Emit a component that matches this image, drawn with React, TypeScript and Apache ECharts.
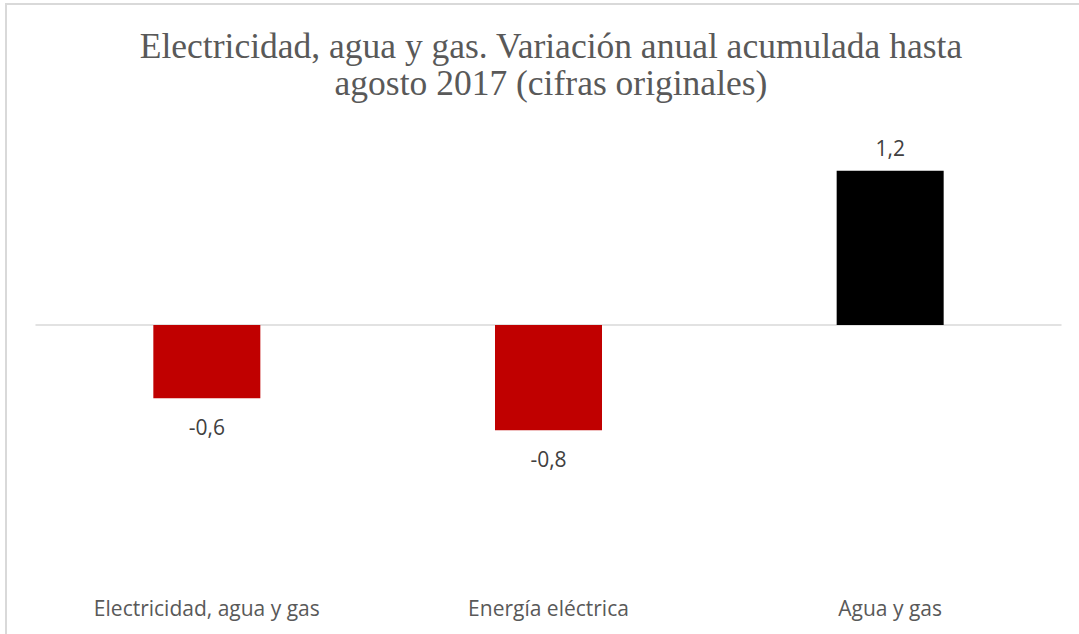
import React, { useEffect, useRef } from "react";
import * as echarts from "echarts";

const categories = ["Electricidad, agua y gas", "Energía eléctrica", "Agua y gas"];
const values = [-0.57, -0.82, 1.2];
const barColors = ["#C00000", "#C00000", "#000000"];
const titleText = "Electricidad, agua y gas. Variación anual acumulada hasta\nagosto 2017 (cifras originales)";

export default function App() {
  const ref = useRef<HTMLDivElement>(null);
  useEffect(() => {
    if (!ref.current) return;
    const chart = echarts.init(ref.current, null, { renderer: "svg" });
    const labelFont = "'Open Sans', 'Noto Sans', sans-serif";
    chart.setOption({
      animation: false,
      backgroundColor: "#ffffff",
      title: {
        text: titleText,
        left: 546,
        top: 22,
        textAlign: "center",
        textStyle: {
          fontFamily: "'Liberation Serif', 'DejaVu Serif', serif",
          fontWeight: "normal",
          fontSize: 35.5,
          lineHeight: 37,
          color: "#595959",
        },
      },
      graphic: [
        {
          type: "rect",
          shape: { x: 6, y: 4, width: 1200, height: 800 },
          style: { fill: "none", stroke: "#d9d9d9", lineWidth: 2 },
          silent: true,
        },
      ],
      grid: { left: 36, right: 18, top: 145, bottom: 52 },
      xAxis: [
        {
          type: "category",
          data: categories,
          axisLine: { show: true, onZero: true, lineStyle: { color: "#d9d9d9", width: 1.5 } },
          axisTick: { show: false },
          axisLabel: { show: false },
        },
        {
          type: "category",
          data: categories,
          position: "bottom",
          axisLine: { show: false, onZero: false },
          axisTick: { show: false },
          axisLabel: {
            show: true,
            margin: 15,
            fontFamily: labelFont,
            fontSize: 21,
            color: "#595959",
          },
        },
      ],
      yAxis: {
        type: "value",
        min: -2,
        max: 1.4,
        show: false,
        splitLine: { show: false },
      },
      series: [
        {
          type: "bar",
          xAxisIndex: 0,
          barWidth: 107,
          data: values.map((v, i) => ({
            value: v,
            itemStyle: { color: barColors[i] },
            label: {
              show: true,
              position: v >= 0 ? "top" : "bottom",
              distance: v >= 0 ? 12 : 18,
              formatter: (p: any) => Number(p.value).toFixed(1).replace(".", ","),
              fontFamily: labelFont,
              fontSize: 21,
              color: "#404040",
            },
          })),
        },
      ],
    });
    return () => chart.dispose();
  }, []);
  return (
    <div
      ref={ref}
      style={{ position: "fixed", left: 0, top: 0, width: 1079, height: 634 }}
    />
  );
}
